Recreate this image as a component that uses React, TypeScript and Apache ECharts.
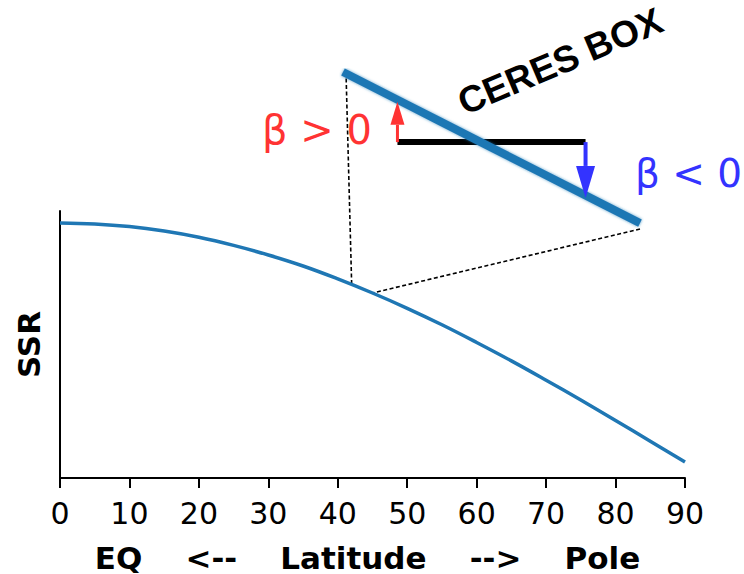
import React, { useEffect, useRef } from "react";
import * as echarts from "echarts";

// Surface solar radiation profile from the equator to the pole
const latitudes = [0, 5, 10, 15, 20, 25, 30, 35, 40, 45, 50, 55, 60, 65, 70, 75, 80, 85, 90];
const ssr = [1.0, 0.996, 0.985, 0.966, 0.94, 0.906, 0.866, 0.82, 0.766, 0.707, 0.643, 0.574, 0.5, 0.423, 0.342, 0.259, 0.174, 0.087, 0.0];

// Zoomed segment of the same profile shown in the CERES box
const insetLat = [42, 43, 44, 45];
const insetSSR = [0.743, 0.731, 0.719, 0.707];

// Horizontal reference bar and the two tendency arrows inside the box
const barLat = [42.55, 44.45];
const barLevel = 0.7263;
const upTip = 0.7359;
const downTip = 0.713;

const FONT = "DejaVu Sans";

export default function App() {
  const ref = useRef<HTMLDivElement>(null);

  useEffect(() => {
    if (!ref.current) return;
    const chart = echarts.init(ref.current, null, { renderer: "svg" });

    chart.setOption({
      animation: false,
      backgroundColor: "#ffffff",
      grid: [
        { left: 60, top: 211, width: 625, height: 267, containLabel: false },
        { left: 343, top: 72, width: 297, height: 157, containLabel: false },
      ],
      xAxis: [
        {
          type: "value",
          gridIndex: 0,
          min: 0,
          max: 90,
          interval: 10,
          axisLine: { show: true, onZero: false, lineStyle: { color: "#000", width: 2 } },
          axisTick: { show: true, length: 10, lineStyle: { color: "#000", width: 2 } },
          axisLabel: { color: "#000", fontSize: 30, fontFamily: FONT, margin: 20 },
          splitLine: { show: false },
          name: "EQ    <--    Latitude    -->    Pole",
          nameLocation: "middle",
          nameGap: 64,
          nameTextStyle: {
            color: "#000",
            fontSize: 31,
            fontWeight: "bold",
            fontFamily: FONT,
            padding: [0, 10, 0, 0],
          },
        },
        {
          type: "value",
          gridIndex: 1,
          min: 42,
          max: 45,
          show: false,
        },
      ],
      yAxis: [
        {
          type: "value",
          gridIndex: 0,
          min: -0.067,
          max: 1.05,
          axisLine: { show: true, onZero: false, lineStyle: { color: "#000", width: 2 } },
          axisTick: { show: false },
          axisLabel: { show: false },
          splitLine: { show: false },
          name: "SSR",
          nameLocation: "middle",
          nameGap: 16,
          nameTextStyle: { color: "#000", fontSize: 31, fontWeight: "bold", fontFamily: FONT },
        },
        {
          type: "value",
          gridIndex: 1,
          min: 0.7056,
          max: 0.743,
          show: false,
        },
      ],
      series: [
        {
          type: "line",
          xAxisIndex: 0,
          yAxisIndex: 0,
          data: latitudes.map((lat, i) => [lat, ssr[i]]),
          smooth: 0.4,
          symbol: "none",
          lineStyle: { color: "#1f77b4", width: 3.5 },
          z: 2,
        },
        {
          type: "line",
          xAxisIndex: 1,
          yAxisIndex: 1,
          data: insetLat.map((lat, i) => [lat, insetSSR[i]]),
          smooth: 0.4,
          symbol: "none",
          lineStyle: {
            color: "#1f77b4",
            width: 8,
            cap: "butt",
            shadowBlur: 3,
            shadowColor: "rgba(31,119,180,0.7)",
          },
          z: 3,
        },
      ],
    });

    const p = (grid: number, v: number[]) =>
      chart.convertToPixel({ gridIndex: grid }, v) as number[];

    // connectors from the box ends to the matching points of the profile
    const aTop = p(1, [insetLat[0], 0.743]);
    const aBot = p(0, [insetLat[0], insetSSR[0]]);
    const bTop = p(1, [insetLat[insetLat.length - 1], 0.7056]);
    const bBot = p(0, [insetLat[insetLat.length - 1], insetSSR[insetSSR.length - 1]]);

    const barL = p(1, [barLat[0], barLevel]);
    const barR = p(1, [barLat[1], barLevel]);
    const upEnd = p(1, [barLat[0], upTip]);
    const downEnd = p(1, [barLat[1], downTip]);

    const dashed = { stroke: "#000", lineWidth: 1.6, lineDash: [4, 2.5] };
    const red = "#ff3333";
    const blue = "#3333ff";
    const upHead = 23;
    const downHead = 32;

    chart.setOption({
      graphic: [
        { type: "line", z: 1, shape: { x1: aTop[0] + 3, y1: aTop[1], x2: aBot[0], y2: aBot[1] }, style: dashed },
        { type: "line", z: 1, shape: { x1: bTop[0], y1: bTop[1], x2: bBot[0], y2: bBot[1] }, style: dashed },
        { type: "line", z: 1, shape: { x1: barL[0], y1: barL[1], x2: barR[0], y2: barR[1] }, style: { stroke: "#000", lineWidth: 6 } },
        { type: "line", z: 5, shape: { x1: barL[0], y1: barL[1], x2: upEnd[0], y2: upEnd[1] + upHead }, style: { stroke: red, lineWidth: 3 } },
        {
          type: "polygon",
          z: 5,
          shape: { points: [[upEnd[0], upEnd[1]], [upEnd[0] - 7, upEnd[1] + upHead], [upEnd[0] + 7, upEnd[1] + upHead]] },
          style: { fill: red },
        },
        { type: "line", z: 5, shape: { x1: barR[0], y1: barR[1], x2: downEnd[0], y2: downEnd[1] - downHead }, style: { stroke: blue, lineWidth: 4 } },
        {
          type: "polygon",
          z: 5,
          shape: { points: [[downEnd[0], downEnd[1]], [downEnd[0] - 9.5, downEnd[1] - downHead], [downEnd[0] + 9.5, downEnd[1] - downHead]] },
          style: { fill: blue },
        },
        {
          type: "text",
          z: 6,
          x: 262,
          y: 130,
          style: { text: "β > 0", fill: red, font: `40px '${FONT}'`, textAlign: "left", textVerticalAlign: "middle" },
        },
        {
          type: "text",
          z: 6,
          x: 635,
          y: 173,
          style: { text: "β < 0", fill: blue, font: `39px '${FONT}'`, textAlign: "left", textVerticalAlign: "middle" },
        },
        {
          type: "text",
          z: 6,
          x: 560,
          y: 61,
          rotation: (23 * Math.PI) / 180,
          style: {
            text: "CERES BOX",
            fill: "#000",
            font: "bold 37px 'Liberation Sans'",
            textAlign: "center",
            textVerticalAlign: "middle",
          },
        },
      ],
    });

    return () => chart.dispose();
  }, []);

  return (
    <div
      ref={ref}
      style={{ position: "fixed", left: 0, top: 0, width: 744, height: 574 }}
    />
  );
}
